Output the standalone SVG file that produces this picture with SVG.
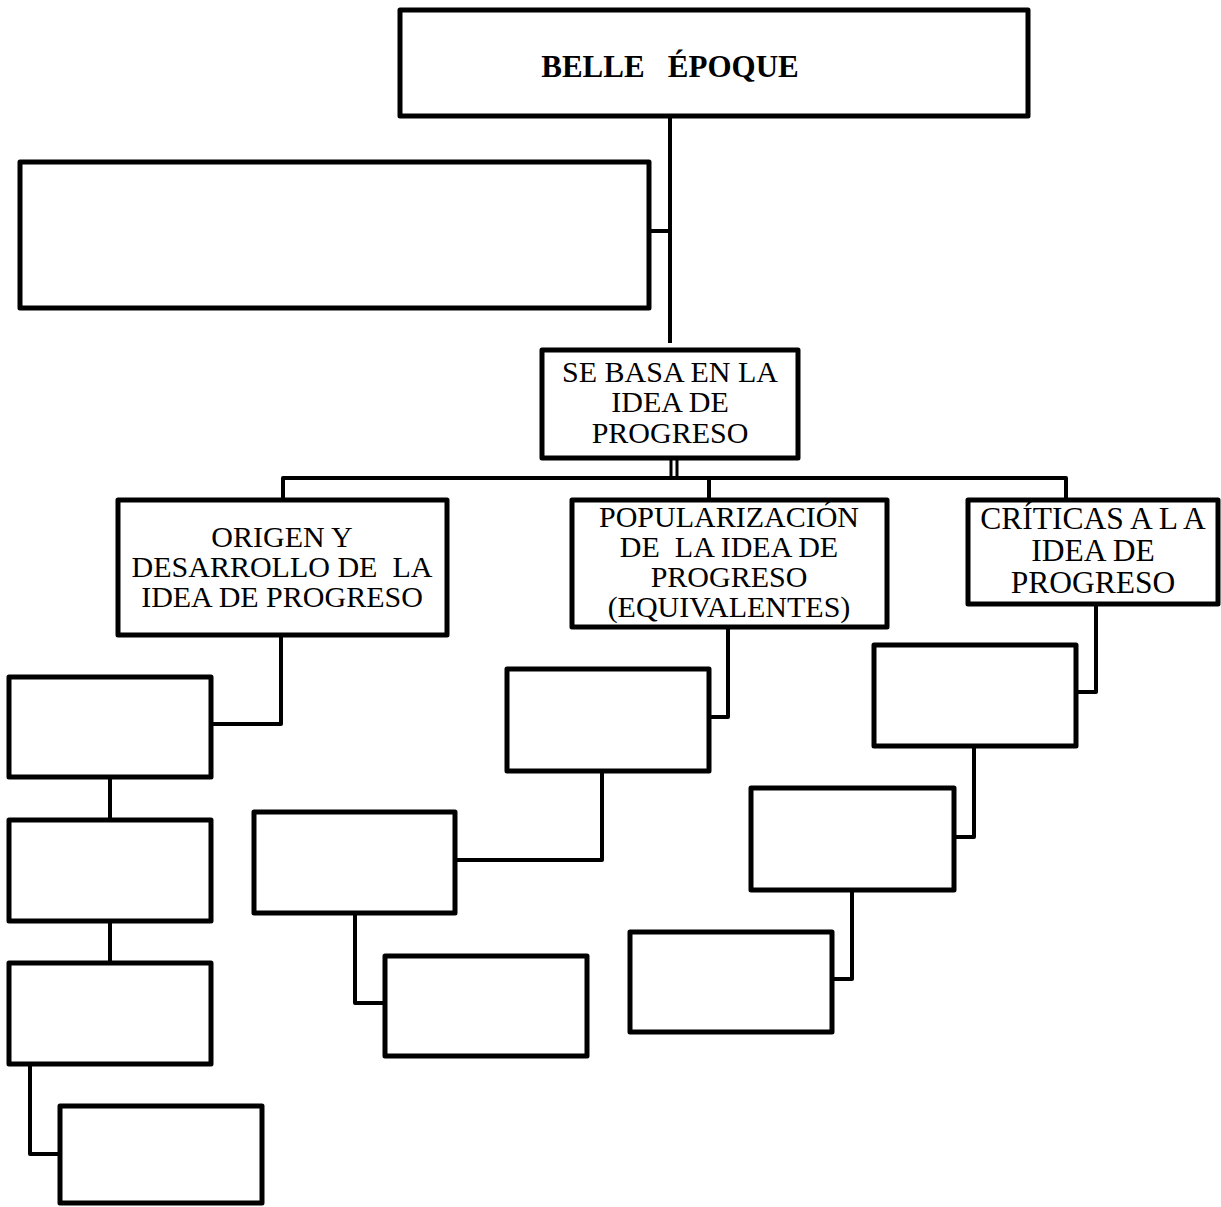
<svg xmlns="http://www.w3.org/2000/svg" width="1221" height="1207" viewBox="0 0 1221 1207">
<style>
.box{fill:#fff;stroke:#000;stroke-width:5;stroke-linejoin:round}
.con{fill:none;stroke:#000;stroke-width:4;stroke-linejoin:round}
.t{font-family:"Liberation Serif","Times New Roman",serif;fill:#000;text-anchor:middle}
.title{font-weight:bold;font-size:31px}
.s30{font-size:30px}
.s32{font-size:31.5px}
</style>
<rect width="1221" height="1207" fill="#fff"/>
<g id="connectors">
<path class="con" d="M670,116 V343"/>
<path class="con" d="M649,231 H670"/>
<path class="con" d="M671,458 V478 M677,458 V478" style="stroke-width:3"/>
<path class="con" d="M283,500 V478 H1066 V500"/>
<path class="con" d="M709,478 V500"/>
<path class="con" d="M281,635 V724 H211"/>
<path class="con" d="M110,777 V820"/>
<path class="con" d="M110,921 V963"/>
<path class="con" d="M30,1064 V1154 H60"/>
<path class="con" d="M728,627 V717 H709"/>
<path class="con" d="M602,771 V860 H455"/>
<path class="con" d="M355,913 V1003 H385"/>
<path class="con" d="M1096,604 V692 H1076"/>
<path class="con" d="M974,746 V837 H954"/>
<path class="con" d="M852,890 V979 H832"/>
</g>
<g id="belle-epoque">
<rect class="box" x="400" y="10" width="628" height="106"/>
<text class="t title" x="670" y="77" xml:space="preserve">BELLE   ÉPOQUE</text>
</g>
<g id="empty-top">
<rect class="box" x="20" y="162" width="629" height="146"/>
</g>
<g id="se-basa">
<rect class="box" x="542" y="350" width="256" height="108"/>
<text class="t s30" x="670" y="382">SE BASA EN LA</text>
<text class="t s30" x="670" y="412">IDEA DE</text>
<text class="t s30" x="670" y="443">PROGRESO</text>
</g>
<g id="origen">
<rect class="box" x="118" y="500" width="329" height="135"/>
<text class="t s30" x="282" y="547">ORIGEN Y</text>
<text class="t s30" x="282" y="577" xml:space="preserve">DESARROLLO DE  LA</text>
<text class="t s30" x="282" y="607">IDEA DE PROGRESO</text>
</g>
<g id="popularizacion">
<rect class="box" x="572" y="500" width="315" height="127"/>
<text class="t s30" x="729" y="527">POPULARIZACIÓN</text>
<text class="t s30" x="729" y="557" xml:space="preserve">DE  LA IDEA DE</text>
<text class="t s30" x="729" y="587">PROGRESO</text>
<text class="t s30" x="729" y="617">(EQUIVALENTES)</text>
</g>
<g id="criticas">
<rect class="box" x="968" y="500" width="250" height="104"/>
<text class="t s32" x="1093" y="529">CRÍTICAS A L A</text>
<text class="t s32" x="1093" y="561">IDEA DE</text>
<text class="t s32" x="1093" y="593">PROGRESO</text>
</g>
<g id="box-a"><rect class="box" x="9" y="677" width="202" height="100"/></g>
<g id="box-b"><rect class="box" x="9" y="820" width="202" height="101"/></g>
<g id="box-c"><rect class="box" x="9" y="963" width="202" height="101"/></g>
<g id="box-d"><rect class="box" x="60" y="1106" width="202" height="97"/></g>
<g id="box-e"><rect class="box" x="507" y="669" width="202" height="102"/></g>
<g id="box-f"><rect class="box" x="254" y="812" width="201" height="101"/></g>
<g id="box-g"><rect class="box" x="385" y="956" width="202" height="100"/></g>
<g id="box-h"><rect class="box" x="874" y="645" width="202" height="101"/></g>
<g id="box-i"><rect class="box" x="751" y="788" width="203" height="102"/></g>
<g id="box-j"><rect class="box" x="630" y="932" width="202" height="100"/></g>
</svg>
